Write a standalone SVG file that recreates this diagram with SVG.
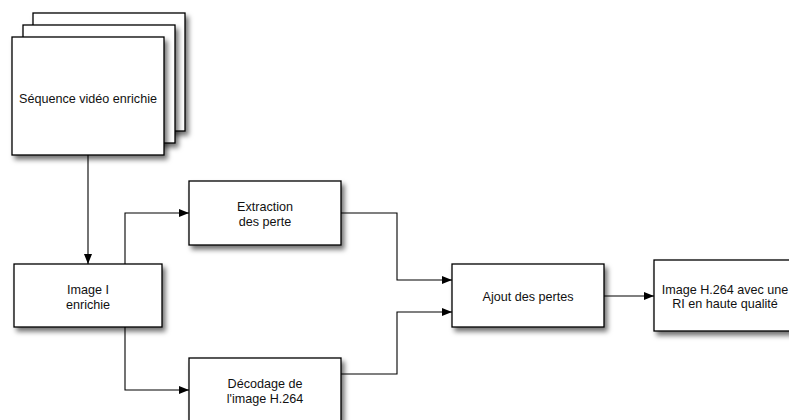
<svg xmlns="http://www.w3.org/2000/svg" width="789" height="420" viewBox="0 0 789 420">
  <defs>
    <filter id="shadow" x="-20%" y="-20%" width="150%" height="160%">
      <feDropShadow dx="3" dy="4" stdDeviation="2.5" flood-color="#000" flood-opacity="0.55"/>
    </filter>
    <marker id="arrow" viewBox="0 0 10 8" refX="10" refY="4" markerWidth="10" markerHeight="8" markerUnits="userSpaceOnUse" orient="auto">
      <path d="M0,0 L10,4 L0,8 Z" fill="#000"/>
    </marker>
    <style>
      .box { fill: #fff; stroke: #000; stroke-width: 1.3; filter: url(#shadow); }
      .lbl { font-family: "Liberation Sans", Arial, Helvetica, sans-serif; font-size: 12.6px; fill: #111; text-anchor: middle; }
      .edge { fill: none; stroke: #000; stroke-width: 1.1; marker-end: url(#arrow); }
    </style>
  </defs>
  <rect width="789" height="420" fill="#fff"/>

  <!-- connectors -->
  <g id="connectors">
    <path class="edge" d="M88,155 V264"/>
    <path class="edge" d="M125,264 V213 H189"/>
    <path class="edge" d="M125,327 V390 H189"/>
    <path class="edge" d="M341,213 H397 V280 H452"/>
    <path class="edge" d="M341,374 H397 V312 H452"/>
    <path class="edge" d="M604,296 H654"/>
  </g>

  <!-- stacked video frames -->
  <g id="sequence">
    <rect class="box" x="33" y="13" width="152" height="118"/>
    <rect class="box" x="23" y="25" width="152" height="118"/>
    <rect class="box" x="12" y="37" width="152" height="118"/>
    <text class="lbl" x="88" y="102.5">Séquence vidéo enrichie</text>
  </g>

  <g id="image-i">
    <rect class="box" x="14" y="264" width="148" height="63"/>
    <text class="lbl" x="88" y="293.5">Image I</text>
    <text class="lbl" x="88" y="308.5">enrichie</text>
  </g>

  <g id="extraction">
    <rect class="box" x="189" y="181" width="152" height="64"/>
    <text class="lbl" x="265" y="210.5">Extraction</text>
    <text class="lbl" x="265" y="225.5">des perte</text>
  </g>

  <g id="decodage">
    <rect class="box" x="189" y="358" width="152" height="64"/>
    <text class="lbl" x="265" y="387.5">Décodage de</text>
    <text class="lbl" x="265" y="402.5">l'image H.264</text>
  </g>

  <g id="ajout">
    <rect class="box" x="452" y="264" width="152" height="63"/>
    <text class="lbl" x="528" y="300.5">Ajout des pertes</text>
  </g>

  <g id="resultat">
    <rect class="box" x="654" y="260" width="142" height="71"/>
    <text class="lbl" x="725" y="293.5">Image H.264 avec une</text>
    <text class="lbl" x="725" y="307.5">RI en haute qualité</text>
  </g>
</svg>
